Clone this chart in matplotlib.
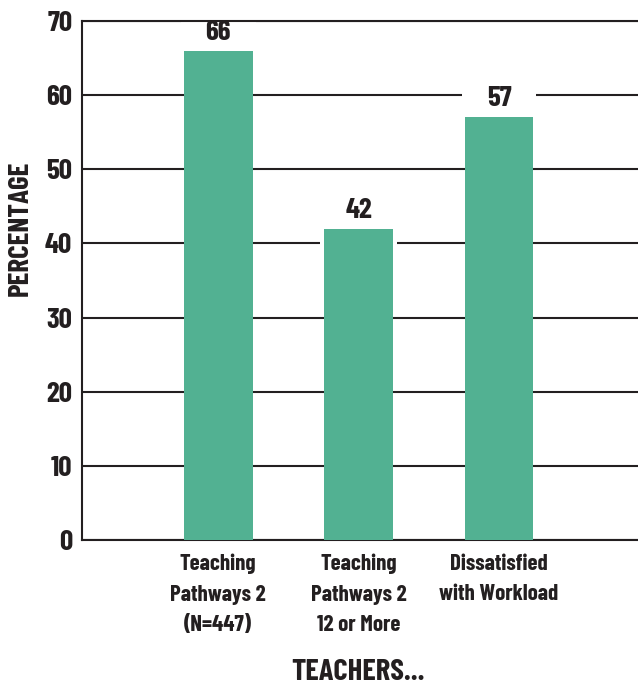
import matplotlib.pyplot as plt

# data
categories = ['Teaching\nPathways 2\n(N=447)', 'Teaching\nPathways 2\n12 or More', 'Dissatisfied\nwith Workload']
values = [66, 42, 57]
yticks = [0, 10, 20, 30, 40, 50, 60, 70]

plt.rcParams['font.family'] = ['Barlow Condensed', 'DejaVu Sans']
plt.rcParams['font.weight'] = 'bold'
ink = '#231f20'

fig = plt.figure(figsize=(6.38, 6.89), dpi=100)
ax = fig.add_axes([82/638, 149/689, 1 - 82/638, 519/689])

x_pos = [i for i, _ in enumerate(categories)]
bars = ax.bar(x_pos, values, width=0.49, color='#52b192', zorder=3)

# value labels on top of bars (white box hides grid lines behind them)
for b, v in zip(bars, values):
    ax.text(b.get_x() + b.get_width()/2, v + 0.8, str(v), ha='center', va='bottom',
            fontsize=21, fontweight='bold', color=ink, zorder=2,
            bbox=dict(boxstyle='square,pad=0.85', facecolor='white', edgecolor='none'))

ax.set_xlim(-0.97, 2.99)
ax.set_ylim(0, 70)
ax.set_yticks(yticks)
ax.set_xticks(x_pos)
ax.set_xticklabels(categories, fontsize=16.5, fontweight='bold', color=ink, linespacing=1.65)
ax.tick_params(axis='y', length=0, labelsize=21, labelcolor=ink, pad=7)
ax.tick_params(axis='x', length=0, pad=10)

ax.grid(axis='y', color=ink, linewidth=1.5, zorder=1)
ax.spines['right'].set_visible(False)
for s in ['left', 'bottom', 'top']:
    ax.spines[s].set_color(ink)
    ax.spines[s].set_linewidth(1.5)

fig.text(20/638, 1 - 228/689, 'PERCENTAGE', rotation=90, ha='center', va='center',
         fontsize=21, fontweight='bold', color=ink)
fig.text(358/638, 1 - 673/689, 'TEACHERS...', ha='center', va='center',
         fontsize=22, fontweight='bold', color=ink)

plt.savefig('out.png', dpi=100)
